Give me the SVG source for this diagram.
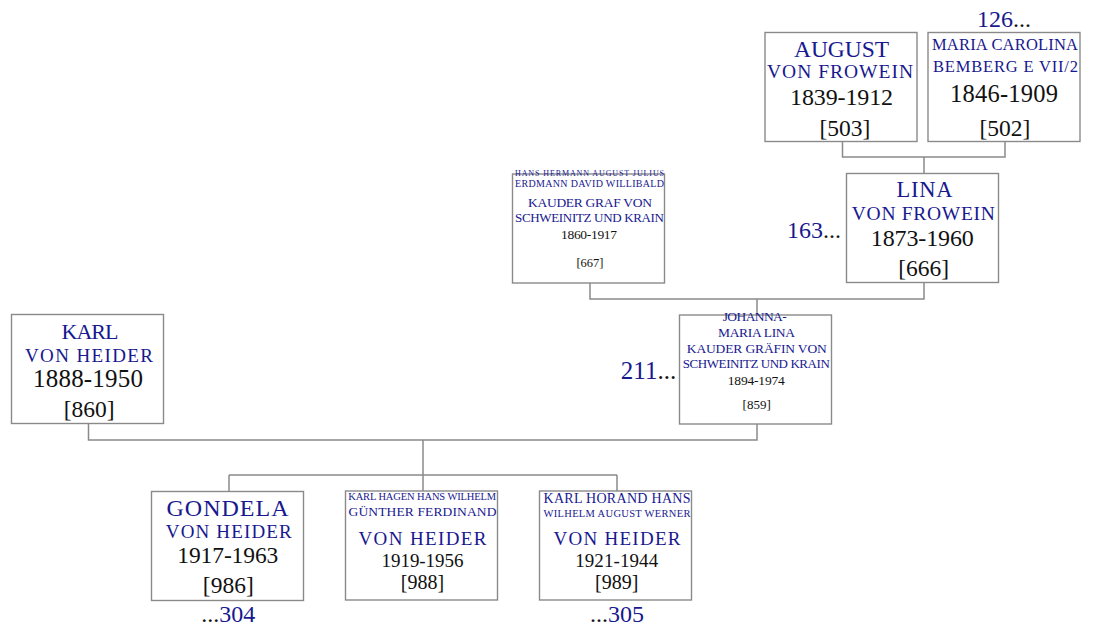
<svg xmlns="http://www.w3.org/2000/svg" width="1097" height="626" viewBox="0 0 1097 626">
<style>
.box{fill:#fff;stroke:#8a8a8a;stroke-width:1.4}
.con path{fill:none;stroke:#8a8a8a;stroke-width:1.5}
text{font-family:"Liberation Serif","Times New Roman",serif;text-anchor:middle}
.n{fill:#18188f}
.d{fill:#111}
.dots{fill:#111}
</style>
<rect width="1097" height="626" fill="#fff"/>
<g class="con">
<path d="M842.5,141 V157 H1005 V141 M924,157 V174"/>
<path d="M590,283 V299 H924 V283 M757,299 V315"/>
<path d="M88.5,424 V440 H757 V424 M423,440 V475 M229,475 H617 M229,475 V491 M423,475 V491 M617,475 V491"/>
</g>
<g id="n503">
<rect class="box" x="765" y="32.5" width="152" height="109"/>
<text class="n" x="841.5" y="56.7" font-size="23.5" textLength="95">AUGUST</text>
<text class="n" x="840" y="78.3" font-size="19.5" textLength="146">VON FROWEIN</text>
<text class="d" x="841.5" y="105" font-size="24" textLength="103">1839-1912</text>
<text class="d" x="845" y="135.5" font-size="23.5">[503]</text>
</g>
<g id="n502">
<text class="n" x="1004" y="26.7" font-size="24">126<tspan class="dots">...</tspan></text>
<rect class="box" x="928" y="32.5" width="152" height="109"/>
<text class="n" x="1005" y="50" font-size="16.5" textLength="146">MARIA CAROLINA</text>
<text class="n" x="1005.5" y="71.7" font-size="16.5" textLength="145">BEMBERG E VII/2</text>
<text class="d" x="1004" y="101.7" font-size="24.5" textLength="108">1846-1909</text>
<text class="d" x="1005" y="135.5" font-size="23.5">[502]</text>
</g>
<g id="n666">
<text class="n" x="814" y="237.5" font-size="24">163<tspan class="dots">...</tspan></text>
<rect class="box" x="846.5" y="173.5" width="152" height="109"/>
<text class="n" x="924.5" y="197.3" font-size="22.5" textLength="56">LINA</text>
<text class="n" x="923.3" y="220" font-size="19.5" textLength="143">VON FROWEIN</text>
<text class="d" x="922.3" y="246" font-size="24" textLength="103">1873-1960</text>
<text class="d" x="923.7" y="275.5" font-size="23.5">[666]</text>
</g>
<g id="n667">
<rect class="box" x="512.5" y="174" width="152" height="109"/>
<text class="n" x="589.5" y="176" font-size="8" textLength="149">HANS HERMANN AUGUST JULIUS</text>
<text class="n" x="589.5" y="186.7" font-size="10" textLength="149">ERDMANN DAVID WILLIBALD</text>
<text class="n" x="590" y="206.7" font-size="13.5" textLength="124">KAUDER GRAF VON</text>
<text class="n" x="589.5" y="221.5" font-size="13" textLength="149">SCHWEINITZ UND KRAIN</text>
<text class="d" x="589" y="238.5" font-size="13.5" textLength="56">1860-1917</text>
<text class="d" x="590" y="267" font-size="12.5">[667]</text>
</g>
<g id="n859">
<text class="n" x="648.5" y="379.3" font-size="25">211<tspan class="dots">...</tspan></text>
<rect class="box" x="679.5" y="315" width="152" height="109"/>
<text class="n" x="754.7" y="320.7" font-size="13.5" textLength="64">JOHANNA-</text>
<text class="n" x="756.5" y="337" font-size="13.5" textLength="77">MARIA LINA</text>
<text class="n" x="756.8" y="353" font-size="13.5" textLength="140">KAUDER GRÄFIN VON</text>
<text class="n" x="756.3" y="368" font-size="13" textLength="147">SCHWEINITZ UND KRAIN</text>
<text class="d" x="756.3" y="385" font-size="13.5" textLength="57">1894-1974</text>
<text class="d" x="756.7" y="408.5" font-size="13">[859]</text>
</g>
<g id="n860">
<rect class="box" x="11.5" y="314.5" width="152" height="109"/>
<text class="n" x="90" y="338.8" font-size="22" textLength="57">KARL</text>
<text class="n" x="89" y="361.7" font-size="19" textLength="128">VON HEIDER</text>
<text class="d" x="88" y="386.7" font-size="25" textLength="110">1888-1950</text>
<text class="d" x="89.2" y="416.5" font-size="23.5">[860]</text>
</g>
<g id="n986">
<rect class="box" x="151.5" y="491.5" width="152" height="109"/>
<text class="n" x="227.5" y="515.5" font-size="24" textLength="122">GONDELA</text>
<text class="n" x="228.8" y="538.3" font-size="19" textLength="126">VON HEIDER</text>
<text class="d" x="227.8" y="563.3" font-size="23.5" textLength="101">1917-1963</text>
<text class="d" x="228.3" y="592.5" font-size="23.5">[986]</text>
<text class="n" x="228.3" y="621.7" font-size="24"><tspan class="dots">...</tspan>304</text>
</g>
<g id="n988">
<rect class="box" x="345.5" y="491" width="152" height="109"/>
<text class="n" x="422.2" y="500" font-size="10.5" textLength="148">KARL HAGEN HANS WILHELM</text>
<text class="n" x="422.5" y="516" font-size="13.5" textLength="148">GÜNTHER FERDINAND</text>
<text class="n" x="422.5" y="545" font-size="19" textLength="128">VON HEIDER</text>
<text class="d" x="422.5" y="566.7" font-size="19" textLength="82">1919-1956</text>
<text class="d" x="422.5" y="588.5" font-size="20">[988]</text>
</g>
<g id="n989">
<rect class="box" x="539.5" y="491" width="152" height="109"/>
<text class="n" x="617" y="503.3" font-size="14" textLength="147">KARL HORAND HANS</text>
<text class="n" x="617" y="516.7" font-size="10.5" textLength="147">WILHELM AUGUST WERNER</text>
<text class="n" x="617" y="545" font-size="19" textLength="127">VON HEIDER</text>
<text class="d" x="616.7" y="566.7" font-size="19" textLength="83">1921-1944</text>
<text class="d" x="616.7" y="588.5" font-size="20">[989]</text>
<text class="n" x="617" y="621.7" font-size="24"><tspan class="dots">...</tspan>305</text>
</g>
</svg>
